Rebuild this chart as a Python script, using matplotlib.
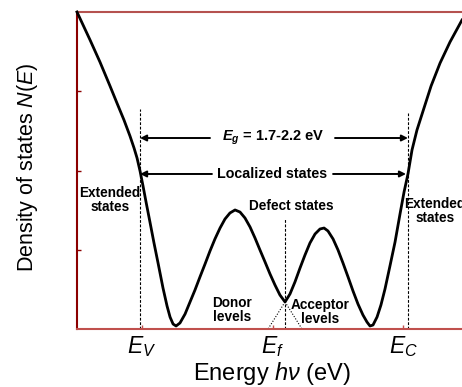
import numpy as np
import matplotlib
matplotlib.use("Agg")
import matplotlib.pyplot as plt

plt.rcParams['font.family'] = ['Liberation Sans', 'DejaVu Sans']
plt.rcParams['mathtext.fontset'] = 'custom'
plt.rcParams['mathtext.rm'] = 'Liberation Sans'
plt.rcParams['mathtext.it'] = 'Liberation Sans:italic'
plt.rcParams['mathtext.bf'] = 'Liberation Sans:bold'
plt.rcParams['mathtext.bfit'] = 'Liberation Sans:italic:bold'

# density of states curve (E_V = 1, E_f = 2, E_C = 3)
energy = [0.502, 0.602, 0.678, 0.755, 0.808, 0.862, 0.908, 0.939, 0.962, 0.985,
          1.008, 1.031, 1.061, 1.092, 1.123, 1.161, 1.192, 1.215, 1.238, 1.261,
          1.291, 1.330, 1.368, 1.406, 1.444, 1.483, 1.521, 1.559, 1.598, 1.636,
          1.674, 1.713, 1.751, 1.789, 1.828, 1.866, 1.904, 1.943, 1.981, 2.019,
          2.057, 2.096, 2.134, 2.172, 2.211, 2.249, 2.287, 2.326, 2.364, 2.395,
          2.425, 2.464, 2.502, 2.540, 2.579, 2.617, 2.655, 2.693, 2.724, 2.747,
          2.770, 2.801, 2.831, 2.862, 2.900, 2.939, 2.977, 3.008, 3.038, 3.069,
          3.107, 3.161, 3.215, 3.284, 3.360, 3.452]
dos = [4.000, 3.647, 3.369, 3.066, 2.852, 2.637, 2.435, 2.284, 2.158, 1.994,
       1.804, 1.603, 1.350, 1.085, 0.833, 0.517, 0.290, 0.151, 0.063, 0.038,
       0.076, 0.189, 0.341, 0.492, 0.656, 0.820, 0.984, 1.136, 1.274, 1.388,
       1.464, 1.502, 1.476, 1.401, 1.287, 1.148, 0.997, 0.845, 0.694, 0.555,
       0.429, 0.341, 0.442, 0.593, 0.770, 0.934, 1.085, 1.199, 1.262, 1.274,
       1.237, 1.136, 0.997, 0.833, 0.656, 0.479, 0.315, 0.177, 0.088, 0.038,
       0.050, 0.151, 0.303, 0.505, 0.795, 1.098, 1.451, 1.729, 1.956, 2.259,
       2.511, 2.789, 3.066, 3.356, 3.621, 3.899]

tick_pos = [1, 2, 3]
tick_labels = [r'$E_V$', r'$E_f$', r'$E_C$']

# band edges / Fermi level (dashed markers) and their heights
edge_x = [0.985, 2.096, 3.038]
edge_top = [2.776, 1.40, 2.726]
fermi_min = (2.096, 0.341)
tail_ends = [1.966, 2.226]

fig = plt.figure(figsize=(4.62, 3.87), dpi=100)
ax = fig.add_axes([77/462, 58/387, 385/462, 317/387])

ax.plot(energy, dos, color='black', lw=2, clip_on=False, zorder=3)

for x, top in zip(edge_x, edge_top):
    ax.plot([x, x], [0, top], color='black', lw=0.8, ls=(0, (2.5, 1.5)))
for xe in tail_ends:
    ax.plot([fermi_min[0], xe], [fermi_min[1], 0], color='black', lw=0.8, ls=(0, (1, 1.5)))

aprops = dict(arrowstyle='-|>', color='black', lw=1.4, mutation_scale=9, shrinkA=0, shrinkB=0)
eg_y = 2.41
loc_y = 1.956
ax.text(2.004, eg_y, r'$\mathbfit{E}_{\mathbfit{g}}$ = 1.7-2.2 eV', ha='center', va='center',
        fontsize=10.5, fontweight='bold')
ax.annotate('', xy=(edge_x[0], eg_y), xytext=(1.521, eg_y), arrowprops=aprops)
ax.annotate('', xy=(edge_x[2], eg_y), xytext=(2.479, eg_y), arrowprops=aprops)
ax.text(2.0, loc_y, 'Localized states', ha='center', va='center', fontsize=10.3, fontweight='bold')
ax.annotate('', xy=(edge_x[0], loc_y), xytext=(1.536, loc_y), arrowprops=aprops)
ax.annotate('', xy=(edge_x[2] - 0.015, loc_y), xytext=(2.464, loc_y), arrowprops=aprops)

small = dict(ha='center', va='center', fontsize=9.8, fontweight='bold', linespacing=1.05)
ax.text(0.755, 1.63, 'Extended\nstates', **small)
ax.text(3.245, 1.49, 'Extended\nstates', clip_on=False, **small)
ax.text(2.142, 1.552, 'Defect states', **small)
ax.text(1.690, 0.24, 'Donor\nlevels', **small)
ax.text(2.364, 0.215, 'Acceptor\nlevels', **small)

ax.set_xlim(0.502, 3.452)
ax.set_ylim(0, 4)
ax.set_xticks(tick_pos)
ax.set_xticklabels(tick_labels, fontsize=16.5)
ax.set_yticks([1, 2, 3])
ax.set_yticklabels([])
ax.tick_params(axis='x', direction='in', length=3, width=1, color='#c0504d', pad=4)
ax.tick_params(axis='y', direction='in', length=3, width=1, color='#8b0000')

ax.spines['right'].set_visible(False)
ax.spines['top'].set_color('#b5524f')
ax.spines['left'].set_color('#8b0000')
ax.spines['bottom'].set_color('#c0504d')
for s in ['top', 'left', 'bottom']:
    ax.spines[s].set_linewidth(1.5)

ax.set_ylabel(r'Density of states $N(E)$', fontsize=15.5)
ax.yaxis.set_label_coords(-0.095, 0.51)
ax.set_xlabel(r'Energy $h\nu$ (eV)', fontsize=17)
ax.xaxis.set_label_coords(0.506, -0.098)

fig.savefig('out.png', dpi=100)
